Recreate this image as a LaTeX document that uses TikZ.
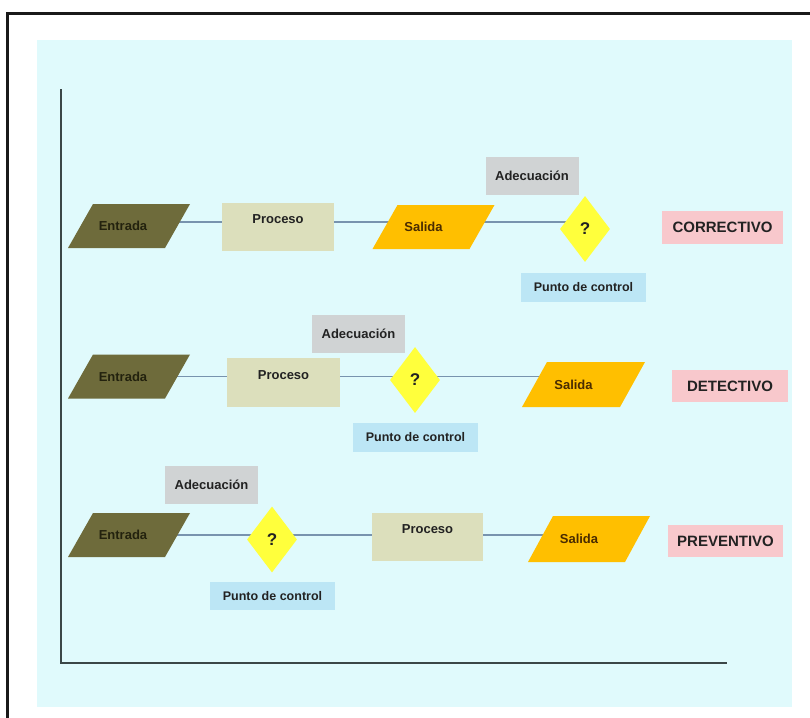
\documentclass[tikz,border=0pt]{standalone}
\usepackage{fontspec}
\setmainfont{Liberation Sans}
\usetikzlibrary{shapes.geometric}

\definecolor{panelbg}{HTML}{E0FAFC}
\definecolor{inbox}{HTML}{6E6B3B}
\definecolor{intext}{HTML}{23220E}
\definecolor{procbox}{HTML}{DCDFBC}
\definecolor{outbox}{HTML}{FFBF00}
\definecolor{outtext}{HTML}{4A2C00}
\definecolor{checkbox}{HTML}{FFFF3C}
\definecolor{fitbox}{HTML}{D0D3D4}
\definecolor{pointbox}{HTML}{BCE6F5}
\definecolor{kindbox}{HTML}{F8C8CC}
\definecolor{wire}{HTML}{7893AE}
\definecolor{axisline}{HTML}{3B4747}
\definecolor{ink}{HTML}{222222}

\pgfdeclarelayer{panel}
\pgfdeclarelayer{wires}
\pgfsetlayers{panel,wires,main}

\tikzset{
  base/.style={inner sep=0pt, text=ink, font=\bfseries\fontsize{13}{15}\selectfont},
  % parallelogram drawn inside the node's box, slanted to the right
  slanted/.style={base, rectangle, minimum width=122pt, minimum height=44pt,
    path picture={\fill[#1]
      ([xshift=25pt]path picture bounding box.north west) --
      (path picture bounding box.north east) --
      ([xshift=-25pt]path picture bounding box.south east) --
      (path picture bounding box.south west) -- cycle;}},
  entrada/.style={slanted=inbox, text=intext},
  salida/.style={slanted=outbox, text=outtext},
  proceso/.style={base, rectangle, fill=procbox, minimum width=112pt, minimum height=48pt,
    text height=10pt, text depth=17pt},
  check/.style={base, diamond, fill=checkbox, minimum width=50pt, minimum height=66pt,
    font=\bfseries\fontsize{17}{19}\selectfont},
  fit/.style={base, rectangle, fill=fitbox, minimum width=93pt, minimum height=38pt},
  point/.style={base, rectangle, fill=pointbox, minimum width=125pt, minimum height=29pt,
    font=\bfseries\fontsize{12.5}{14}\selectfont},
  kind/.style={base, rectangle, fill=kindbox, minimum height=33pt,
    font=\bfseries\fontsize{15}{17}\selectfont},
  flow/.style={draw=wire, line width=1.8pt},
}

\begin{document}
\begin{tikzpicture}[x=1pt,y=-1pt]
\useasboundingbox (0,0) rectangle (810,717);

% outer frame and panel
\begin{pgfonlayer}{panel}
  \fill[white] (0,0) rectangle (810,717);
  \fill[panelbg] (37,40) rectangle (792,707);
  \draw[line width=3.5pt, black!90] (7.5,720) -- (7.5,13.5) -- (815,13.5);
  \draw[axisline, line width=2.2pt] (61,89) -- (61,663) -- (727,663);
\end{pgfonlayer}

% corrective control
\node[entrada] (e1) at (129,226) {\hspace*{-12pt}Entrada};
\node[proceso] (p1) at (278,227) {Proceso};
\node[salida]  (s1) at (433.5,227) {\hspace*{-20pt}Salida};
\node[check]   (d1) at (585,229) {?};
\node[fit]     (a1) at (532,176) {Adecuación};
\node[point]   (c1) at (583.5,287) {Punto de control};
\node[kind, minimum width=121pt] (k1) at (722.5,227.5) {CORRECTIVO};

% detective control
\node[entrada] (e2) at (129,376.5) {\hspace*{-12pt}Entrada};
\node[proceso, minimum width=113pt, minimum height=49pt] (p2) at (283.5,382.5) {Proceso};
\node[fit]     (a2) at (358.5,334) {Adecuación};
\node[check]   (d2) at (415,380) {?};
\node[point]   (c2) at (415.5,437.5) {Punto de control};
\node[salida, minimum height=45pt, minimum width=123pt] (s2) at (583.5,384.5) {\hspace*{-20pt}Salida};
\node[kind, minimum width=116pt, minimum height=32pt] (k2) at (730,386) {DETECTIVO};

% preventive control
\node[fit]     (a3) at (211.5,485) {Adecuación};
\node[entrada] (e3) at (129,535) {\hspace*{-12pt}Entrada};
\node[check]   (d3) at (272,539.5) {?};
\node[point, minimum height=28pt] (c3) at (272.5,596) {Punto de control};
\node[proceso, minimum width=111pt] (p3) at (427.5,537) {Proceso};
\node[salida, minimum height=46pt] (s3) at (589,539) {\hspace*{-20pt}Salida};
\node[kind, minimum width=115pt, minimum height=32pt] (k3) at (725.5,541) {PREVENTIVO};

% connecting lines behind the shapes
\begin{pgfonlayer}{wires}
  \draw[flow] ([yshift=4pt]e1.center) -- ([yshift=4pt]e1.center -| d1.center);
  \draw[flow] (e2.center) -- (e2.center -| s2.center);
  \draw[flow] (e3.center) -- (e3.center -| s3.center);
\end{pgfonlayer}
\end{tikzpicture}
\end{document}
